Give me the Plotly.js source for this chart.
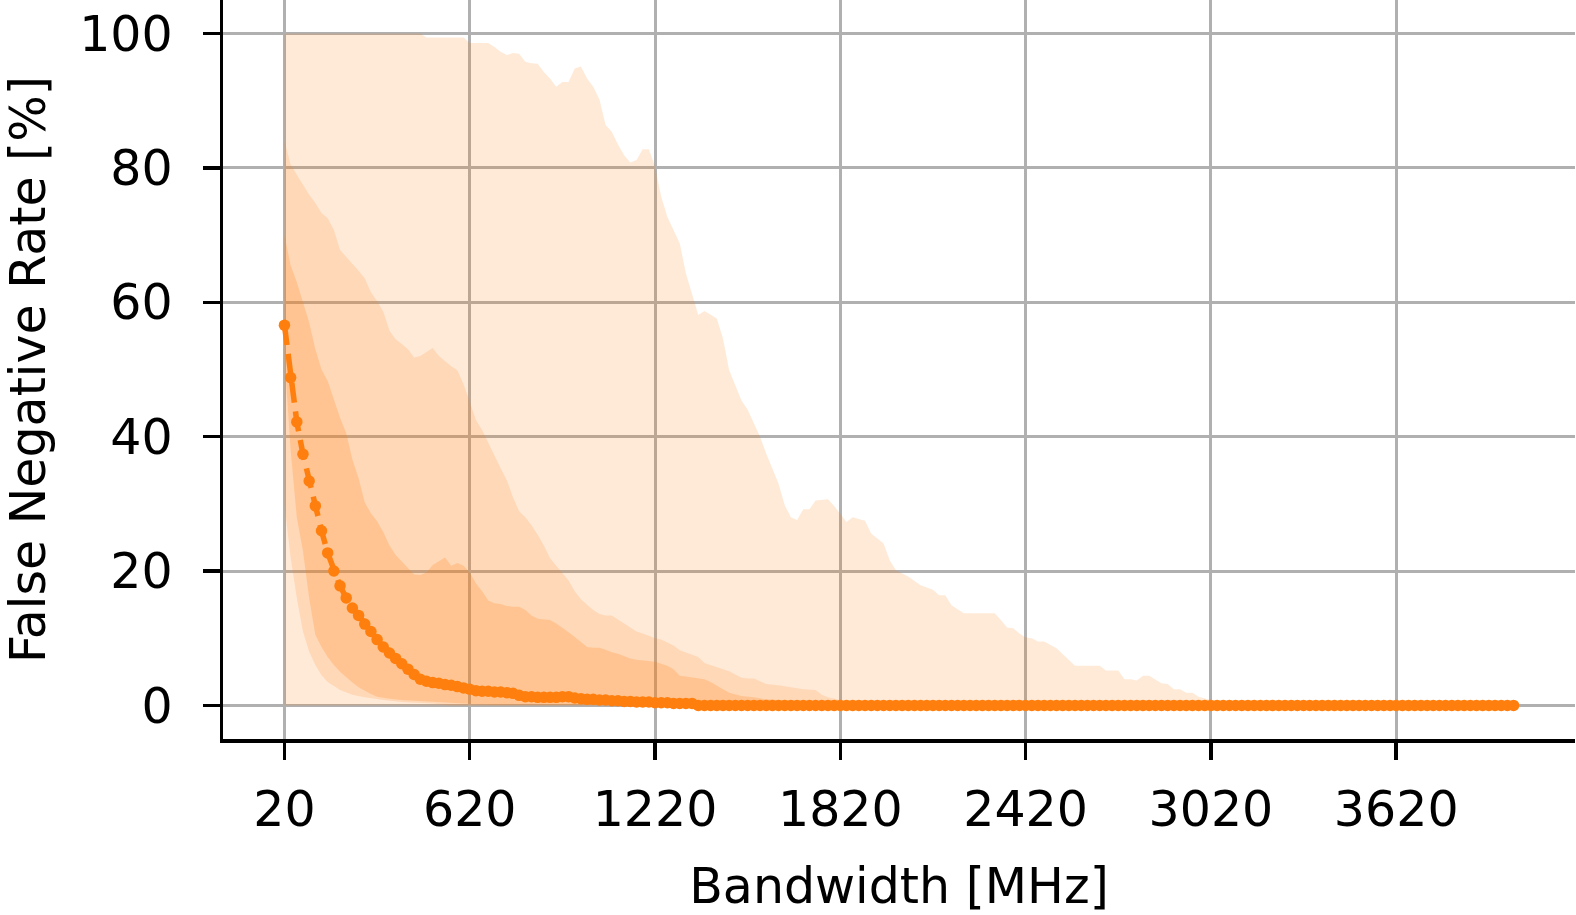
<!DOCTYPE html>
<html>
<head>
<meta charset="utf-8">
<script src="https://cdn.plot.ly/plotly-3.0.1.min.js"></script>
<style>html,body{margin:0;padding:0;background:#fff;}#chart{width:1576px;height:915px;}</style>
</head>
<body>
<div id="chart"></div>
<script>
// ---- data ----
const bandwidth = [
  20,40,60,80,100,120,140,160,180,200,
  220,240,260,280,300,320,340,360,380,400,
  420,440,460,480,500,520,540,560,580,600,
  620,640,660,680,700,720,740,760,780,800,
  820,840,860,880,900,920,940,960,980,1000,
  1020,1040,1060,1080,1100,1120,1140,1160,1180,1200,
  1220,1240,1260,1280,1300,1320,1340,1360,1380,1400,
  1420,1440,1460,1480,1500,1520,1540,1560,1580,1600,
  1620,1640,1660,1680,1700,1720,1740,1760,1780,1800,
  1820,1840,1860,1880,1900,1920,1940,1960,1980,2000,
  2020,2040,2060,2080,2100,2120,2140,2160,2180,2200,
  2220,2240,2260,2280,2300,2320,2340,2360,2380,2400,
  2420,2440,2460,2480,2500,2520,2540,2560,2580,2600,
  2620,2640,2660,2680,2700,2720,2740,2760,2780,2800,
  2820,2840,2860,2880,2900,2920,2940,2960,2980,3000,
  3020,3040,3060,3080,3100,3120,3140,3160,3180,3200,
  3220,3240,3260,3280,3300,3320,3340,3360,3380,3400,
  3420,3440,3460,3480,3500,3520,3540,3560,3580,3600,
  3620,3640,3660,3680,3700,3720,3740,3760,3780,3800,
  3820,3840,3860,3880,3900,3920,3940,3960,3980,4000
];
const medianFNR = [
  56.6,48.8,42.2,37.4,33.4,29.7,26.0,22.7,20.0,17.8,
  16.0,14.5,13.4,12.1,11.0,9.8,8.7,7.8,7.0,6.2,
  5.4,4.6,3.9,3.6,3.4,3.3,3.1,3.0,2.8,2.6,
  2.4,2.2,2.1,2.1,2.0,2.0,1.9,1.8,1.5,1.3,
  1.3,1.2,1.2,1.2,1.2,1.3,1.3,1.1,1.0,0.9,
  0.9,0.8,0.8,0.7,0.7,0.6,0.6,0.5,0.5,0.5,
  0.4,0.4,0.4,0.3,0.3,0.3,0.3,0,0,0,
  0,0,0,0,0,0,0,0,0,0,
  0,0,0,0,0,0,0,0,0,0,
  0,0,0,0,0,0,0,0,0,0,
  0,0,0,0,0,0,0,0,0,0,
  0,0,0,0,0,0,0,0,0,0,
  0,0,0,0,0,0,0,0,0,0,
  0,0,0,0,0,0,0,0,0,0,
  0,0,0,0,0,0,0,0,0,0,
  0,0,0,0,0,0,0,0,0,0,
  0,0,0,0,0,0,0,0,0,0,
  0,0,0,0,0,0,0,0,0,0,
  0,0,0,0,0,0,0,0,0,0,
  0,0,0,0,0,0,0,0,0,0
];

// outer band (widest spread)
const outerUpperX = [20,460,480,600,620,680,700,720,740,760,780,800,820,840,860,880,900,920,940,960,980,1000,1020,1040,1060,1080,1100,1120,1140,1160,1180,1200,1220,1240,1260,1300,1320,1340,1360,1380,1420,1440,1460,1500,1520,1560,1580,1620,1640,1660,1680,1700,1720,1740,1780,1800,1840,1860,1900,1920,1960,1980,2000,2040,2080,2120,2140,2160,2180,2220,2320,2340,2360,2380,2400,2420,2440,2460,2480,2520,2560,2580,2660,2680,2720,2740,2760,2780,2800,2820,2860,2880,2900,2920,2940,2960,2980,3020,3040,4000];
const outerUpperY = [100,100,99.4,99.4,98.6,98.6,98.0,97.3,96.8,97.1,97.0,95.8,95.6,95.5,94.3,93.3,92.1,92.8,92.8,94.8,95.1,93.3,92.1,90.2,86.4,85.4,83.5,81.9,80.8,81.2,82.8,82.8,80.2,75.7,72.7,68.8,64.3,61.3,58.1,58.7,57.6,54.6,49.9,45.4,44.0,40.0,37.5,33.0,29.8,28.0,27.6,29.2,29.2,30.5,30.7,29.7,27.3,28.0,27.5,25.6,24.1,21.6,20.1,19.2,17.9,17.2,16.4,16.4,14.9,13.7,13.7,12.7,11.6,11.5,10.7,10.1,10.0,9.5,9.5,8.5,6.7,5.9,5.9,5.2,5.2,3.9,3.9,3.7,4.4,4.4,3.3,3.2,2.4,2.4,1.9,1.9,1.3,0.8,0,0];
const outerLowerX = [20,4000];
const outerLowerY = [0,0];

// middle band
const middleUpperX = [20,40,60,80,100,120,140,160,180,200,220,240,260,280,300,320,340,360,380,400,420,440,460,480,500,520,540,560,580,600,620,640,660,680,700,720,740,760,780,800,820,840,860,880,900,920,940,960,980,1000,1020,1040,1060,1080,1100,1120,1140,1160,1180,1200,1220,1240,1260,1280,1300,1320,1340,1360,1380,1400,1420,1440,1460,1480,1500,1520,1540,1560,1580,1620,1660,1700,1740,1760,1780,1800,1820,1840,4000];
const middleUpperY = [84,80.5,79,77.4,76,74.8,73.3,72.5,70.8,67.8,66.8,65.7,64.7,63.6,61.5,60.2,58.6,55.8,54.5,53.8,53.0,51.8,52.0,52.6,53.2,52.0,51.2,50.5,49.9,47.8,45.2,42.5,41.0,39.2,37.2,35.3,33.5,31.0,28.9,28.0,26.8,25.4,23.8,21.9,20.8,19.8,18.6,17.0,15.8,15.0,14.2,13.6,13.4,13.4,12.8,12.2,11.5,11.0,10.7,10.3,10.0,9.8,9.4,8.9,8.2,7.9,7.6,7.2,6.3,6.0,5.7,5.4,5.1,4.6,4.1,4.0,4.0,3.6,3.2,3.0,2.7,2.4,2.3,1.6,1.2,1.0,0.8,0,0];
const middleLowerX = [20,40,60,80,100,120,140,160,200,240,280,340,400,500,560,4000];
const middleLowerY = [30,22,16,11,8,6,4.5,3.5,2.3,1.6,1.2,0.8,0.5,0.3,0,0];

// inner band
const innerUpperX = [20,40,60,80,100,120,140,160,180,200,220,240,260,280,300,320,340,360,380,400,420,440,460,480,500,520,540,560,580,600,620,640,660,680,700,720,740,760,780,800,820,840,860,880,900,920,940,960,980,1000,1020,1040,1060,1080,1100,1120,1140,1160,1180,1200,1220,1240,1260,1280,1300,1320,1340,1360,1380,1400,1420,1440,1460,1480,1500,1540,1580,1620,1700,1760,1800,4000];
const innerUpperY = [70,65.5,63,60,57,53,50,48.3,45.5,42.8,40.5,36.6,33.8,30.2,28.6,27.4,25.8,23.8,22.4,21.4,20.5,19.5,19.4,19.8,20.9,21.5,22.0,20.8,21.2,20.8,19.8,18.2,17.0,15.6,15.2,15.1,14.8,14.7,14.7,14.2,13.4,12.9,12.8,12.7,12.2,11.6,10.9,10.2,9.4,8.7,8.6,8.6,8.3,7.9,7.7,7.3,7.0,6.8,6.7,6.7,6.5,6.2,5.9,5.4,4.4,4.3,4.2,4.1,3.9,3.5,2.9,2.4,1.9,1.6,1.4,1.2,0.9,0.8,0.6,0.3,0,0];
const innerLowerX = [20,40,60,80,100,120,140,160,180,200,220,240,260,280,300,320,360,400,500,600,700,720,4000];
const innerLowerY = [52,38,28,23,16,10.5,8.7,7.2,6.0,5.0,4.2,3.4,2.7,2.2,1.7,1.3,1.0,0.8,0.5,0.3,0.1,0,0];

const xTickVals = [20,620,1220,1820,2420,3020,3620];
const yTickVals = [0,20,40,60,80,100];

// ---- build traces ----
function band(ux, uy, lx, ly, alpha) {
  return {
    x: ux.concat(lx.slice().reverse()),
    y: uy.concat(ly.slice().reverse()),
    type: 'scatter', mode: 'lines', fill: 'toself',
    fillcolor: 'rgba(255,127,14,' + alpha + ')',
    line: {width: 0, color: 'rgba(0,0,0,0)'},
    hoverinfo: 'skip', showlegend: false
  };
}
const traces = [
  band(outerUpperX, outerUpperY, outerLowerX, outerLowerY, 0.16),
  band(middleUpperX, middleUpperY, middleLowerX, middleLowerY, 0.16),
  band(innerUpperX, innerUpperY, innerLowerX, innerLowerY, 0.22),
  {
    x: bandwidth, y: medianFNR, type: 'scatter', mode: 'lines+markers',
    line: {color: '#ff7f0e', width: 5.5, dash: '20px,9px'},
    marker: {color: '#ff7f0e', size: 11.5},
    hoverinfo: 'skip', showlegend: false
  }
];

const axisCommon = {
  showgrid: true, gridcolor: '#b0b0b0', gridwidth: 3,
  zeroline: false, showline: true, linecolor: 'black', linewidth: 3.5,
  ticks: 'outside', ticklen: 17, tickwidth: 3.5, tickcolor: 'black',
  tickfont: {family: 'DejaVu Sans', size: 49, color: 'black'},
  automargin: false, mirror: false
};
const layout = {
  width: 1576, height: 915,
  margin: {l: 223, r: 1, t: 0, b: 176, pad: 0},
  paper_bgcolor: 'white', plot_bgcolor: 'white',
  showlegend: false,
  font: {family: 'DejaVu Sans', size: 49, color: 'black'},
  xaxis: Object.assign({}, axisCommon, {
    range: [-179, 4199], tickmode: 'array', tickvals: xTickVals,
    ticktext: xTickVals.map(String), ticklabelstandoff: 8,
    title: {text: 'Bandwidth [MHz]', font: {family: 'DejaVu Sans', size: 49, color: 'black'}, standoff: 34}
  }),
  yaxis: Object.assign({}, axisCommon, {
    range: [-5, 105], tickmode: 'array', tickvals: yTickVals,
    ticktext: yTickVals.map(String), ticklabelstandoff: 20,
    title: {text: 'False Negative Rate [%]', font: {family: 'DejaVu Sans', size: 49, color: 'black'}, standoff: 26}
  })
};
Plotly.newPlot('chart', traces, layout, {staticPlot: true, displayModeBar: false});
</script>
</body>
</html>
